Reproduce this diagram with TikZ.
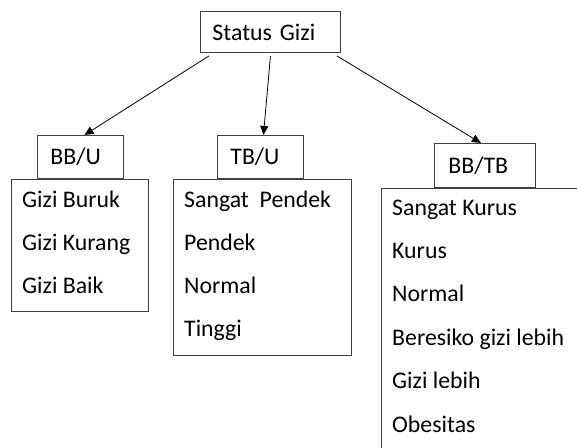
\documentclass[tikz,border=0pt]{standalone}
\usepackage{fontspec}
\setmainfont{Carlito}
\usetikzlibrary{arrows.meta,positioning}

\begin{document}
\begin{tikzpicture}[x=1pt, y=-1pt,
    box/.style={rectangle, draw=black!75, line width=0.9pt, anchor=north west,
                inner sep=0pt},
    head/.style={box, align=left, font=\fontsize{23.8}{28}\selectfont},
    item/.style={anchor=base west, inner sep=0pt, font=\fontsize{23.8}{28}\selectfont},
    arrow/.style={-{Triangle[length=9pt,width=8pt]}, line width=0.8pt}
]
\useasboundingbox (0,0) rectangle (577,447);
\clip (0,0) rectangle (577,447);

% headers
\node[head, inner xsep=12pt, text width=116pt, minimum height=41pt] (status) at (200,11) {Status Gizi};
\node[head, inner xsep=13pt, text width=60pt, minimum height=43pt] (bbu)  at (37,135)  {BB/U};
\node[head, inner xsep=13pt, text width=60pt, minimum height=43pt] (tbu)  at (217,135) {TB/U};
\node[head, inner xsep=14pt, text width=73pt, minimum height=44pt] (bbtb) at (434,143) {BB/TB};

% list boxes
\node[box, minimum width=137pt, minimum height=132pt] (bbulist)  at (11,179)  {};
\node[box, minimum width=178pt, minimum height=176pt] (tbulist)  at (173,179) {};
\node[box, minimum width=250pt, minimum height=300pt] (bbtblist) at (381,188) {};

\foreach \t [count=\i] in {Gizi Buruk, Gizi Kurang, Gizi Baik}
  \node[item] (bbu\i) at (22,{207+43*(\i-1)}) {\t};
\foreach \t [count=\i] in {Sangat\ \ Pendek, Pendek, Normal, Tinggi}
  \node[item] (tbu\i) at (184,{207+43.3*(\i-1)}) {\t};
\foreach \t [count=\i] in {Sangat Kurus, Kurus, Normal, Beresiko gizi lebih, Gizi lebih, Obesitas}
  \node[item] (bbtb\i) at (392,{215+43.4*(\i-1)}) {\t};

% arrows
\draw[arrow] ([xshift=9pt,yshift=-3pt]status.south west) -- ([xshift=4pt]bbu.north);
\draw[arrow] ([yshift=-3pt]status.south) -- ([xshift=3pt]tbu.north);
\draw[arrow] ([xshift=-4pt,yshift=-3pt]status.south east) -- ([xshift=-4pt]bbtb.north);
\end{tikzpicture}
\end{document}
